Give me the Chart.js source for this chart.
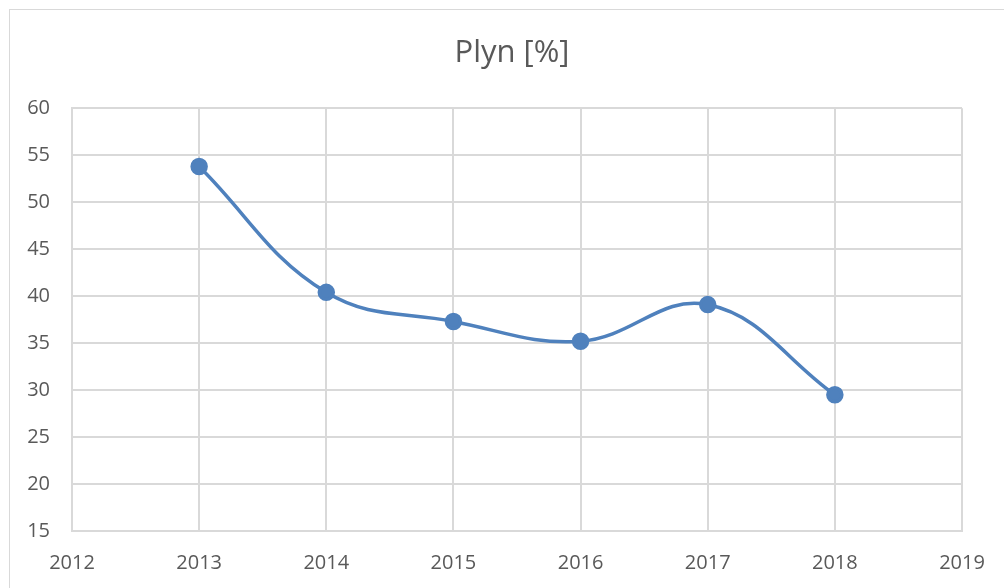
<!DOCTYPE html>
<html>
<head>
<meta charset="utf-8">
<script src="https://cdn.jsdelivr.net/npm/chart.js@4"></script>
<style>
  html, body { margin: 0; padding: 0; background: #fff; overflow: hidden; }
  #wrap { position: relative; width: 1004px; height: 588px; }
  #frame { position: absolute; left: 9px; top: 9px; width: 1100px; height: 700px; border: 1px solid #d9d9d9; }
  canvas { position: absolute; left: 0; top: 0; }
</style>
</head>
<body>
<div id="wrap">
  <div id="frame"></div>
  <canvas id="graf" width="1004" height="588"></canvas>
</div>
<script>
const roky = [2013, 2014, 2015, 2016, 2017, 2018];
const plyn = [53.8, 40.4, 37.3, 35.2, 39.1, 29.5];
const osaX = [2012, 2013, 2014, 2015, 2016, 2017, 2018, 2019];
const osaY = [15, 20, 25, 30, 35, 40, 45, 50, 55, 60];

const modra = "#4f81bd";
const seda = "#595959";
const mrizka = "#d9d9d9";

new Chart(document.getElementById("graf"), {
    type: "line",
    data: {
        datasets: [
            {
                label: "Plyn [%]",
                data: roky.map((r, i) => ({ x: r, y: plyn[i] })),
                borderColor: modra,
                backgroundColor: modra,
                borderWidth: 3.5,
                pointRadius: 7,
                pointHoverRadius: 7,
                tension: 0.4
            }
        ]
    },
    options: {
        responsive: false,
        animation: false,
        layout: { padding: { left: 20, right: 0, top: 0, bottom: 0 } },
        plugins: {
            legend: { display: false },
            tooltip: { enabled: false },
            title: {
                display: true,
                text: "Plyn [%]",
                color: seda,
                font: { family: "'Open Sans'", size: 31, weight: "normal" },
                padding: { top: 35, bottom: 36 }
            }
        },
        scales: {
            x: {
                type: "linear",
                min: osaX[0],
                max: osaX[osaX.length - 1],
                afterBuildTicks: s => { s.ticks = osaX.map(v => ({ value: v })); },
                afterFit: s => { s.height = 57; s.paddingRight = 42; },
                ticks: {
                    color: seda,
                    padding: 20,
                    maxRotation: 0,
                    font: { family: "'Open Sans'", size: 20 },
                    callback: v => String(v)
                },
                grid: { color: mrizka, lineWidth: 2, drawTicks: false },
                border: { color: mrizka, width: 2 }
            },
            y: {
                min: osaY[0],
                max: osaY[osaY.length - 1],
                afterBuildTicks: s => { s.ticks = osaY.map(v => ({ value: v })); },
                afterFit: s => { s.width = 52; },
                ticks: {
                    color: seda,
                    padding: 22,
                    font: { family: "'Open Sans'", size: 20 }
                },
                grid: { color: mrizka, lineWidth: 2, drawTicks: false },
                border: { color: mrizka, width: 2 }
            }
        }
    }
});
</script>
</body>
</html>
